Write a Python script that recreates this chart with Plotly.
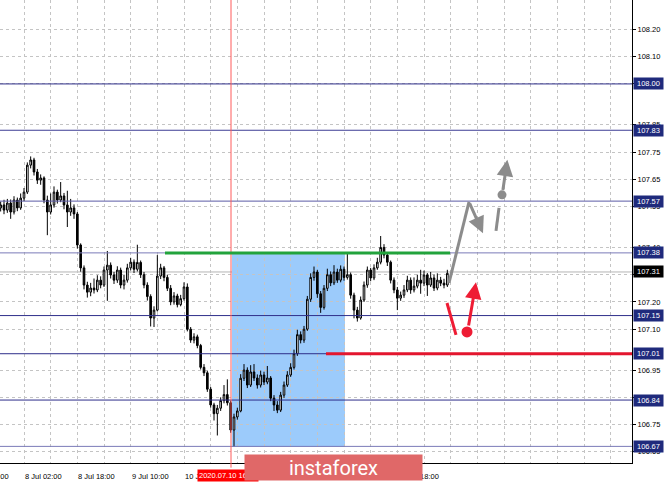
import plotly.graph_objects as go

# ---------------- data (USD/JPY, H1) ----------------
bar_index = list(range(-7, 128))

close_ = [107.556, 107.537, 107.563, 107.530, 107.574, 107.545, 107.581,
          107.603, 107.702, 107.721, 107.677, 107.647, 107.655, 107.574, 107.530, 107.556, 107.603,
          107.574, 107.589, 107.556, 107.530, 107.545, 107.523, 107.409, 107.325, 107.262, 107.236,
          107.251, 107.244, 107.280, 107.262, 107.317, 107.335, 107.299, 107.280, 107.317, 107.262,
          107.280, 107.325, 107.346, 107.320, 107.345, 107.300, 107.262, 107.220, 107.141, 107.170,
          107.295, 107.325, 107.290, 107.250, 107.200, 107.222, 107.190, 107.212, 107.255, 107.100,
          107.060, 107.072, 107.040, 106.960, 106.940, 106.880, 106.822, 106.790, 106.810, 106.838,
          106.860, 106.830, 106.730, 106.778, 106.800, 106.920, 106.950, 106.895, 106.943, 106.921,
          106.895, 106.932, 106.906, 106.921, 106.847, 106.822, 106.803, 106.858, 106.895, 106.932,
          106.960, 107.010, 107.080, 107.060, 107.100, 107.210, 107.290, 107.310, 107.230, 107.180,
          107.250, 107.300, 107.270, 107.310, 107.280, 107.320, 107.290, 107.300, 107.225, 107.170,
          107.141, 107.207, 107.262, 107.317, 107.288, 107.325, 107.346, 107.400, 107.372, 107.346,
          107.280, 107.244, 107.214, 107.225, 107.244, 107.280, 107.244, 107.258, 107.280, 107.269,
          107.299, 107.262, 107.288, 107.251, 107.280, 107.269, 107.262, 107.305]

open_ = [107.545, 107.556, 107.537, 107.563, 107.530, 107.574, 107.545,
         107.581, 107.603, 107.702, 107.721, 107.677, 107.647, 107.655, 107.574, 107.530, 107.556,
         107.603, 107.574, 107.589, 107.556, 107.530, 107.545, 107.523, 107.409, 107.325, 107.262,
         107.236, 107.251, 107.244, 107.280, 107.262, 107.317, 107.335, 107.299, 107.280, 107.317,
         107.262, 107.280, 107.325, 107.346, 107.320, 107.345, 107.300, 107.262, 107.220, 107.141,
         107.170, 107.295, 107.325, 107.290, 107.250, 107.200, 107.222, 107.190, 107.212, 107.255,
         107.100, 107.060, 107.072, 107.040, 106.960, 106.940, 106.880, 106.822, 106.790, 106.810,
         106.838, 106.860, 106.830, 106.730, 106.778, 106.800, 106.920, 106.950, 106.895, 106.943,
         106.921, 106.895, 106.932, 106.906, 106.921, 106.847, 106.822, 106.803, 106.858, 106.895,
         106.932, 106.960, 107.010, 107.080, 107.060, 107.100, 107.210, 107.290, 107.310, 107.230,
         107.180, 107.250, 107.300, 107.270, 107.310, 107.280, 107.320, 107.290, 107.300, 107.225,
         107.170, 107.141, 107.207, 107.262, 107.317, 107.288, 107.325, 107.346, 107.400, 107.372,
         107.346, 107.280, 107.244, 107.214, 107.225, 107.244, 107.280, 107.244, 107.258, 107.280,
         107.269, 107.299, 107.262, 107.288, 107.251, 107.280, 107.269, 107.262]

high_ = [107.568, 107.575, 107.578, 107.576, 107.588, 107.583, 107.598,
         107.618, 107.712, 107.734, 107.729, 107.688, 107.668, 107.661, 107.590, 107.598, 107.624,
         107.612, 107.640, 107.600, 107.608, 107.578, 107.558, 107.530, 107.415, 107.334, 107.274,
         107.270, 107.286, 107.298, 107.294, 107.330, 107.387, 107.345, 107.310, 107.331, 107.326,
         107.300, 107.340, 107.362, 107.356, 107.410, 107.352, 107.310, 107.272, 107.228, 107.184,
         107.372, 107.340, 107.332, 107.300, 107.262, 107.236, 107.230, 107.226, 107.272, 107.268,
         107.108, 107.085, 107.080, 107.046, 106.972, 106.948, 106.888, 106.830, 106.822, 106.850,
         106.895, 106.916, 106.838, 106.790, 106.812, 106.935, 106.972, 106.960, 106.968, 106.972,
         106.934, 106.948, 106.944, 106.965, 106.928, 106.858, 106.836, 106.870, 106.908, 106.946,
         106.975, 107.025, 107.098, 107.092, 107.112, 107.222, 107.305, 107.330, 107.318, 107.240,
         107.262, 107.322, 107.312, 107.335, 107.322, 107.334, 107.330, 107.380, 107.308, 107.234,
         107.182, 107.220, 107.275, 107.330, 107.325, 107.338, 107.362, 107.442, 107.412, 107.380,
         107.352, 107.290, 107.255, 107.238, 107.262, 107.296, 107.290, 107.290, 107.300, 107.318,
         107.315, 107.306, 107.310, 107.300, 107.305, 107.292, 107.285, 107.318]

low_ = [107.532, 107.522, 107.527, 107.505, 107.521, 107.533, 107.538,
        107.570, 107.596, 107.690, 107.664, 107.633, 107.630, 107.562, 107.445, 107.521, 107.546,
        107.561, 107.566, 107.540, 107.475, 107.516, 107.505, 107.396, 107.311, 107.246, 107.216,
        107.221, 107.231, 107.236, 107.250, 107.255, 107.204, 107.286, 107.266, 107.270, 107.250,
        107.246, 107.271, 107.316, 107.306, 107.312, 107.288, 107.250, 107.205, 107.110, 107.108,
        107.165, 107.284, 107.276, 107.240, 107.188, 107.190, 107.180, 107.184, 107.205, 107.092,
        107.050, 107.048, 107.030, 106.952, 106.928, 106.870, 106.812, 106.765, 106.710, 106.800,
        106.828, 106.820, 106.720, 106.668, 106.768, 106.795, 106.910, 106.884, 106.888, 106.910,
        106.882, 106.886, 106.895, 106.898, 106.836, 106.800, 106.792, 106.796, 106.848, 106.888,
        106.925, 106.952, 107.002, 107.048, 107.050, 107.094, 107.200, 107.278, 107.215, 107.160,
        107.172, 107.240, 107.258, 107.262, 107.270, 107.272, 107.278, 107.282, 107.212, 107.140,
        107.128, 107.135, 107.200, 107.252, 107.276, 107.280, 107.318, 107.338, 107.360, 107.332,
        107.268, 107.232, 107.170, 107.204, 107.215, 107.236, 107.230, 107.235, 107.250, 107.230,
        107.258, 107.222, 107.255, 107.240, 107.243, 107.258, 107.250, 107.255]

# time-axis labels (bar index -> label); those fully behind the watermark are not shown
time_tick_bars = [-16, 0, 16, 32, 48, 112]
time_tick_text = ["7 Jul 10:00", "8 Jul 02:00", "8 Jul 18:00", "9 Jul 10:00", "10 Jul 02:00",
                  "14 Jul 18:00"]

# price scale (grid lines); labels hidden behind level boxes are blank
price_grid = [108.20, 108.10, 108.00, 107.85, 107.75, 107.65, 107.55, 107.40, 107.30,
              107.20, 107.10, 106.95, 106.85, 106.75, 106.65]
price_grid_text = ["108.20", "108.10", "", "107.85", "107.75", "107.65", "107.55", "107.40", "",
                   "107.20", "107.10", "106.95", "", "106.75", "106.65"]
price_range = [106.609, 108.308]
bar_range = [-7.2, 182.4]

# key levels
levels = [108.00, 107.83, 107.57, 107.38, 107.15, 107.01, 106.84, 106.67]
level_colors = ["#2e2e8a", "#3c3c94", "#5a5aa6", "#7a7ab8", "#2e2e8a", "#2e2e8a", "#2e2e8a", "#7a7ab8"]
current_price = 107.31

# drawings
vline_bar = 62.1
vline_label = "2020.07.10 16:00"
rect_bars = [62.4, 96.3]
rect_prices = [106.668, 107.38]
green_bars = [42.3, 127.8]
green_price = 107.38
red_start_bar = 90.6
red_price = 107.01

NAVY = "#1f2a7c"
FONT = "Liberation Sans"


def bar_to_paper(b):
    return (b - bar_range[0]) / (bar_range[1] - bar_range[0])


fig = go.Figure()

fig.add_trace(go.Candlestick(
    x=bar_index, open=open_, high=high_, low=low_, close=close_,
    increasing=dict(line=dict(color="#000000", width=1), fillcolor="#ffffff"),
    decreasing=dict(line=dict(color="#000000", width=1), fillcolor="#000000"),
    whiskerwidth=0, hoverinfo="skip", showlegend=False,
))

shapes = []
shapes.append(dict(type="rect", xref="x", yref="y", x0=rect_bars[0], x1=rect_bars[1],
                   y0=rect_prices[0], y1=rect_prices[1], fillcolor="#9ccbfb",
                   line=dict(width=0), layer="below"))
shapes.append(dict(type="line", xref="paper", yref="y", x0=0, x1=1, y0=current_price, y1=current_price,
                   line=dict(color="#b4b4b4", width=1), layer="below"))
for lv, lc in zip(levels, level_colors):
    shapes.append(dict(type="line", xref="paper", yref="y", x0=0, x1=1, y0=lv, y1=lv,
                       line=dict(color=lc, width=1), layer="above"))
shapes.append(dict(type="line", xref="x", yref="paper", x0=vline_bar, x1=vline_bar, y0=-0.01, y1=1,
                   line=dict(color="#ff5a5a", width=1), layer="above"))
shapes.append(dict(type="line", xref="x", yref="y", x0=green_bars[0], x1=green_bars[1],
                   y0=green_price, y1=green_price, line=dict(color="#22a33c", width=3), layer="above"))
shapes.append(dict(type="line", xref="x", yref="y", x0=red_start_bar, x1=bar_range[1],
                   y0=red_price, y1=red_price, line=dict(color="#e3162e", width=3), layer="above"))

gray_up = ([127.5, 133.5], [107.270, 107.567])
gray_seg = ([141.6, 142.5], [107.461, 107.545])
red_down = ([126.9, 129.6], [107.196, 107.079])
for (xs, ys), col in [(gray_up, "#8c8c8c"), (gray_seg, "#8c8c8c"), (red_down, "#ee1c34")]:
    shapes.append(dict(type="line", xref="x", yref="y", x0=xs[0], x1=xs[1], y0=ys[0], y1=ys[1],
                       line=dict(color=col, width=3), layer="above"))

fig.update_layout(shapes=shapes)

fig.add_trace(go.Scatter(x=[143.4], y=[107.593], mode="markers",
                         marker=dict(size=9, color="#8c8c8c"), hoverinfo="skip", showlegend=False))
fig.add_trace(go.Scatter(x=[132.9], y=[107.090], mode="markers",
                         marker=dict(size=11, color="#ee1c34"), hoverinfo="skip", showlegend=False))

ann = []
arrows = [
    (133.5, 107.567, 137.7, 107.452, "#8c8c8c"),
    (143.6, 107.605, 145.0, 107.722, "#8c8c8c"),
    (133.3, 107.108, 135.6, 107.272, "#ee1c34"),
]
for ax_, ay_, x_, y_, col in arrows:
    ann.append(dict(x=x_, y=y_, ax=ax_, ay=ay_, xref="x", yref="y", axref="x", ayref="y",
                    text="", showarrow=True, arrowhead=2, arrowsize=1.1, arrowwidth=3,
                    arrowcolor=col))

for lv in levels:
    ann.append(dict(x=1, y=lv, xref="paper", yref="y", xanchor="left", yanchor="middle", xshift=1,
                    text=f"{lv:.2f}", showarrow=False, bgcolor=NAVY, borderpad=1, width=27,
                    font=dict(family=FONT, size=7.5, color="#ffffff")))
ann.append(dict(x=1, y=current_price, xref="paper", yref="y", xanchor="left", yanchor="middle", xshift=1,
                text=f"{current_price:.2f}", showarrow=False, bgcolor="#000000", borderpad=1, width=27,
                font=dict(family=FONT, size=7.5, color="#ffffff")))

for b, t in zip(time_tick_bars, time_tick_text):
    ann.append(dict(x=bar_to_paper(b), y=0, xref="paper", yref="paper", xanchor="left", yanchor="top",
                    yshift=-7, xshift=-1, text=t, showarrow=False,
                    font=dict(family=FONT, size=7.5, color="#000000")))
ann.append(dict(x=bar_to_paper(51.9), y=0, xref="paper", yref="paper", xanchor="left", yanchor="top",
                yshift=-6, text=vline_label, showarrow=False, bgcolor="#ff0000", borderpad=1,
                font=dict(family=FONT, size=7.5, color="#ffffff")))
ann.append(dict(x=333.5 / 632, y=(463 - 467.5) / 463, xref="paper", yref="paper",
                xanchor="center", yanchor="middle", width=177, height=25, borderpad=0,
                text="instaforex", showarrow=False, bgcolor="#e06868",
                font=dict(family="Roboto", size=20, color="#ffffff")))

fig.update_layout(
    annotations=ann,
    width=665, height=486,
    margin=dict(l=0, r=33, t=0, b=23, pad=0),
    paper_bgcolor="#ffffff", plot_bgcolor="#ffffff",
    showlegend=False,
    xaxis=dict(range=bar_range, tickvals=list(range(-8, 184, 8)), showticklabels=False,
               showgrid=True, gridcolor="#c4c4c4", griddash="3px,3px", gridwidth=1,
               zeroline=False, showline=True, linecolor="#000000", linewidth=1,
               rangeslider=dict(visible=False), ticks=""),
    yaxis=dict(range=price_range, side="right", tickvals=price_grid,
               ticktext=price_grid_text,
               showgrid=True, gridcolor="#c4c4c4", griddash="3px,3px", gridwidth=1,
               zeroline=False, showline=True, linecolor="#000000", linewidth=1,
               ticks="outside", ticklen=3, tickcolor="#000000",
               tickfont=dict(family=FONT, size=7.5, color="#000000")),
)

fig.write_html("out.html", config={"displayModeBar": False},
               post_script="document.body.style.margin='0';document.body.style.overflow='hidden';")
